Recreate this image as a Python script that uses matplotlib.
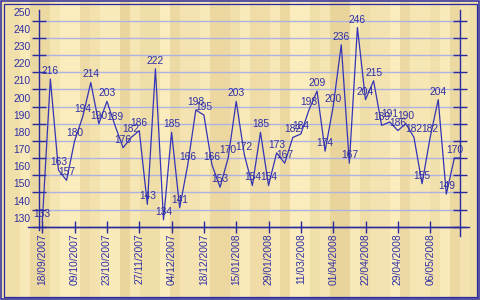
import numpy as np
import matplotlib
matplotlib.use("Agg")
import matplotlib.pyplot as plt
from matplotlib.transforms import ScaledTranslation
from matplotlib.patches import Rectangle

# ---------------- data ----------------
values = [133, 216, 163, 157, 180, 194, 214, 190, 203, 189,
          176, 182, 186, 143, 222, 134, 185, 141, 166, 198,
          195, 166, 153, 170, 203, 172, 154, 185, 154, 173,
          167, 182, 184, 198, 209, 174, 200, 236, 167, 246,
          204, 215, 189, 191, 186, 190, 182, 155, 182, 204,
          149, 170, 170]
tick_labels = ["18/09/2007", "09/10/2007", "23/10/2007", "27/11/2007",
               "04/12/2007", "18/12/2007", "15/01/2008", "29/01/2008",
               "11/03/2008", "01/04/2008", "22/04/2008", "29/04/2008",
               "06/05/2008"]
tick_step = 4
y_ticks = [130, 140, 150, 160, 170, 180, 190, 200, 210, 220, 230, 240, 250]

# ---------------- style ----------------
blue_text = "#2f2fa6"
blue_line = "#3434b4"
grid_col = "#aeb2de"
font = "Liberation Sans"
fs = 7.4

W, H = 480, 300
fig = plt.figure(figsize=(W / 100, H / 100), dpi=100)
fig.patch.set_facecolor("#f1dca6")

# wood-like vertical stripes background (decoration)
stripe_shades = [0.55, 0.55, 0.9, 0.3, 0.3, 0.75, 1.0, 1.0, 0.4, 0.65,
                 0.95, 0.95, 0.2, 0.8, 0.5, 0.5, 1.0, 0.35, 0.7, 0.7,
                 0.9, 0.25, 0.25, 0.6, 0.95, 0.45, 0.45, 0.85, 0.3, 1.0,
                 1.0, 0.55, 0.75, 0.15, 0.15, 0.9, 0.5, 0.7, 0.7, 1.0,
                 0.35, 0.8, 0.8, 0.6, 0.95, 0.3, 0.7, 0.5]
light = np.array([250, 236, 188]) / 255
dark = np.array([231, 208, 150]) / 255
img = np.array([[dark + (light - dark) * s for s in stripe_shades]])
bg = fig.add_axes([0, 0, 1, 1], zorder=-5)
bg.imshow(img, aspect="auto", extent=[0, 1, 0, 1], interpolation="nearest")
bg.set_axis_off()

# double border
for off, lw in ((1.0, 1.1), (3.5, 0.9)):
    fig.add_artist(Rectangle((off / W, off / H), 1 - 2 * off / W, 1 - 2 * off / H,
                             transform=fig.transFigure, fill=False,
                             edgecolor="#2a2aa0", lw=lw))

# plot area
left_px, right_px, top_px, bot_px = 39, 460, 10, 226.7
ax = fig.add_axes([left_px / W, 1 - bot_px / H,
                   (right_px - left_px) / W, (bot_px - top_px) / H])
ax.patch.set_alpha(0)

x = np.arange(len(values))
spacing = 8.08
x0 = -(42.3 - left_px) / spacing
x1 = x0 + (right_px - left_px) / spacing
ax.set_xlim(x0, x1)
ax.set_ylim(130, 250 + (20.7 - top_px) / 1.72)

for g in y_ticks[1:]:
    ax.axhline(g, color=grid_col, lw=1.0, zorder=1)

ax.plot(x, values, color=blue_line, lw=0.9, zorder=3)
for xi, v in zip(x, values):
    ax.annotate(str(v), (xi, v), xytext=(0, 3.6), textcoords="offset points",
                ha="center", va="baseline", fontsize=fs, color=blue_text,
                family=font, zorder=4)

for s in ("top",):
    ax.spines[s].set_visible(False)
for s in ("left", "right", "bottom"):
    ax.spines[s].set_color("#2a2aa0")
    ax.spines[s].set_linewidth(1.0)

ax.set_yticks(y_ticks)
ax.set_yticklabels([str(t) for t in y_ticks])
ax.tick_params(axis="y", direction="inout", length=10, width=1.0, color="#2a2aa0",
               labelcolor=blue_text, labelsize=fs, pad=1, right=True)
off = ScaledTranslation(0, 9 / 100, fig.dpi_scale_trans)
for lab in ax.get_yticklabels():
    lab.set_transform(lab.get_transform() + off)
    lab.set_family(font)

tick_pos = list(range(0, tick_step * len(tick_labels), tick_step))
ax.set_xticks(tick_pos)
ax.set_xticklabels(tick_labels, rotation=90, family=font)
ax.tick_params(axis="x", direction="inout", length=9, width=1.0, color="#2a2aa0",
               labelcolor=blue_text, labelsize=fs, pad=0.5)

# axis line overshoots
ax.plot([-11 / 421, 1 + 9 / 421], [0, 0], transform=ax.transAxes, clip_on=False,
        color="#2a2aa0", lw=1.0)
ax.plot([0, 0], [0, -3.5 / 216.7], transform=ax.transAxes, clip_on=False,
        color="#2a2aa0", lw=1.0)
ax.plot([1, 1], [0, -9.5 / 216.7], transform=ax.transAxes, clip_on=False,
        color="#2a2aa0", lw=1.0)

fig.savefig("out.png", dpi=100, facecolor=fig.get_facecolor())
